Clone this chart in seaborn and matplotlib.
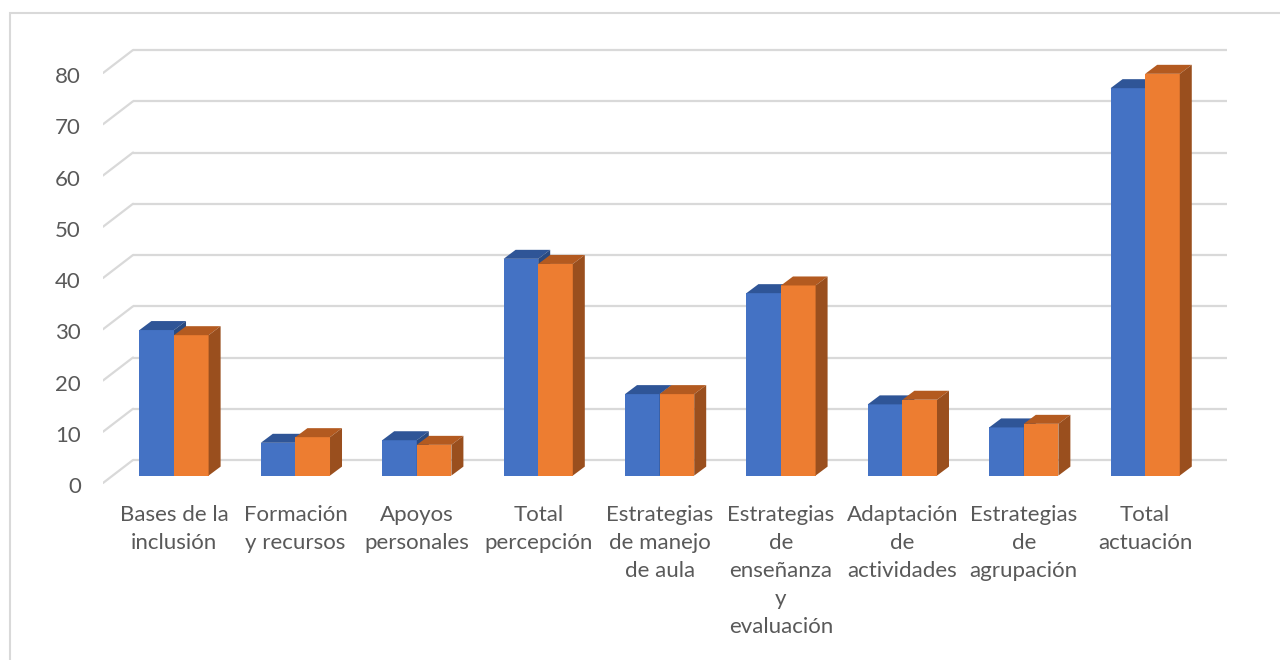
import matplotlib
matplotlib.use('Agg')
import matplotlib.pyplot as plt
import matplotlib.transforms as mtransforms
from matplotlib.patches import Polygon, Rectangle
import seaborn as sns
import pandas as pd

# datos
categorias = ['Bases de la\ninclusión', 'Formación\ny recursos', 'Apoyos\npersonales',
              'Total\npercepción', 'Estrategias\nde manejo\nde aula',
              'Estrategias\nde\nenseñanza\ny\nevaluación', 'Adaptación\nde\nactividades',
              'Estrategias\nde\nagrupación', 'Total\nactuación']
serie_1 = [28.4, 6.4, 6.9, 42.3, 15.9, 35.6, 13.9, 9.4, 75.6]
serie_2 = [27.4, 7.5, 6.0, 41.3, 15.9, 37.1, 14.8, 10.1, 78.4]
series = ['Serie 1', 'Serie 2']
ticks_y = [0, 10, 20, 30, 40, 50, 60, 70, 80]

df = pd.DataFrame({
    'categoria': categorias * 2,
    'valor': serie_1 + serie_2,
    'serie': [series[0]] * len(categorias) + [series[1]] * len(categorias),
})

sns.set_theme(style='white')
plt.rcParams['font.family'] = ['Lato', 'DejaVu Sans']

frente = ['#4472C4', '#ED7D31']
techo = ['#2F5597', '#B35A20']
lado = ['#2A4A80', '#9A4F1E']
gris = '#595959'

fig = plt.figure(figsize=(12.8, 6.6), dpi=100)
ax = fig.add_axes([103 / 1280, 1 - 490 / 660, 1124 / 1280, 450 / 660])

sns.barplot(data=df, x='categoria', y='valor', hue='serie', palette=frente,
            width=0.57, saturation=1, legend=False, linewidth=0, ax=ax)

ax.set_xlim(-0.585, 8.674)
ax.set_ylim(-2.81, 85.0)
for s in ax.spines.values():
    s.set_visible(False)
ax.set_xlabel('')
ax.set_ylabel('')

# pixeles por unidad
p0 = ax.transData.transform((0, 0))
p1 = ax.transData.transform((1, 1))
ppx = p1[0] - p0[0]
ppy = p1[1] - p0[1]

# efecto 3D en las barras
dx = 12 / ppx
dy = 9 / ppy
n = len(categorias)
for i, p in enumerate(ax.patches):
    k = i // n
    x0 = p.get_x()
    w = p.get_width()
    h = p.get_height()
    p.set_zorder(2 + k)
    top = Polygon([(x0, h), (x0 + w, h), (x0 + w + dx, h + dy), (x0 + dx, h + dy)],
                  closed=True, facecolor=techo[k], edgecolor='none', zorder=2.1 + k)
    side = Polygon([(x0 + w, 0), (x0 + w + dx, dy), (x0 + w + dx, h + dy), (x0 + w, h)],
                   closed=True, facecolor=lado[k], edgecolor='none', zorder=2.1 + k)
    ax.add_patch(top)
    ax.add_patch(side)

# cuadricula en la pared del fondo
blend = mtransforms.blended_transform_factory(ax.transAxes, ax.transData)
fondo = 30 / 1124
for v in ticks_y:
    ax.plot([fondo, 1.0], [v + 15.6 / ppy, v + 15.6 / ppy], color='#d9d9d9', lw=1.6,
            transform=blend, zorder=0, solid_capstyle='butt')
    ax.plot([0, fondo], [v - 7.4 / ppy, v + 15.6 / ppy], color='#d9d9d9', lw=1.6,
            transform=blend, zorder=0)

ax.set_yticks(ticks_y)
ax.set_yticklabels([str(v) for v in ticks_y])
ax.tick_params(axis='y', length=0, pad=16, labelsize=16, labelcolor=gris)
ax.tick_params(axis='x', length=0, pad=11, labelsize=16, labelcolor=gris)
desp = mtransforms.ScaledTranslation(0, -9.4 / 100, fig.dpi_scale_trans)
for lab in ax.get_yticklabels():
    lab.set_transform(lab.get_transform() + desp)
for lab in ax.get_xticklabels():
    lab.set_linespacing(1.5)

# borde del area del grafico
fig.add_artist(Rectangle((10 / 1280, -0.05), 1.1, 1 - 13 / 660 + 0.05,
                         transform=fig.transFigure, fill=False,
                         edgecolor='#d9d9d9', lw=1.5))

fig.savefig('out.png', dpi=100)
